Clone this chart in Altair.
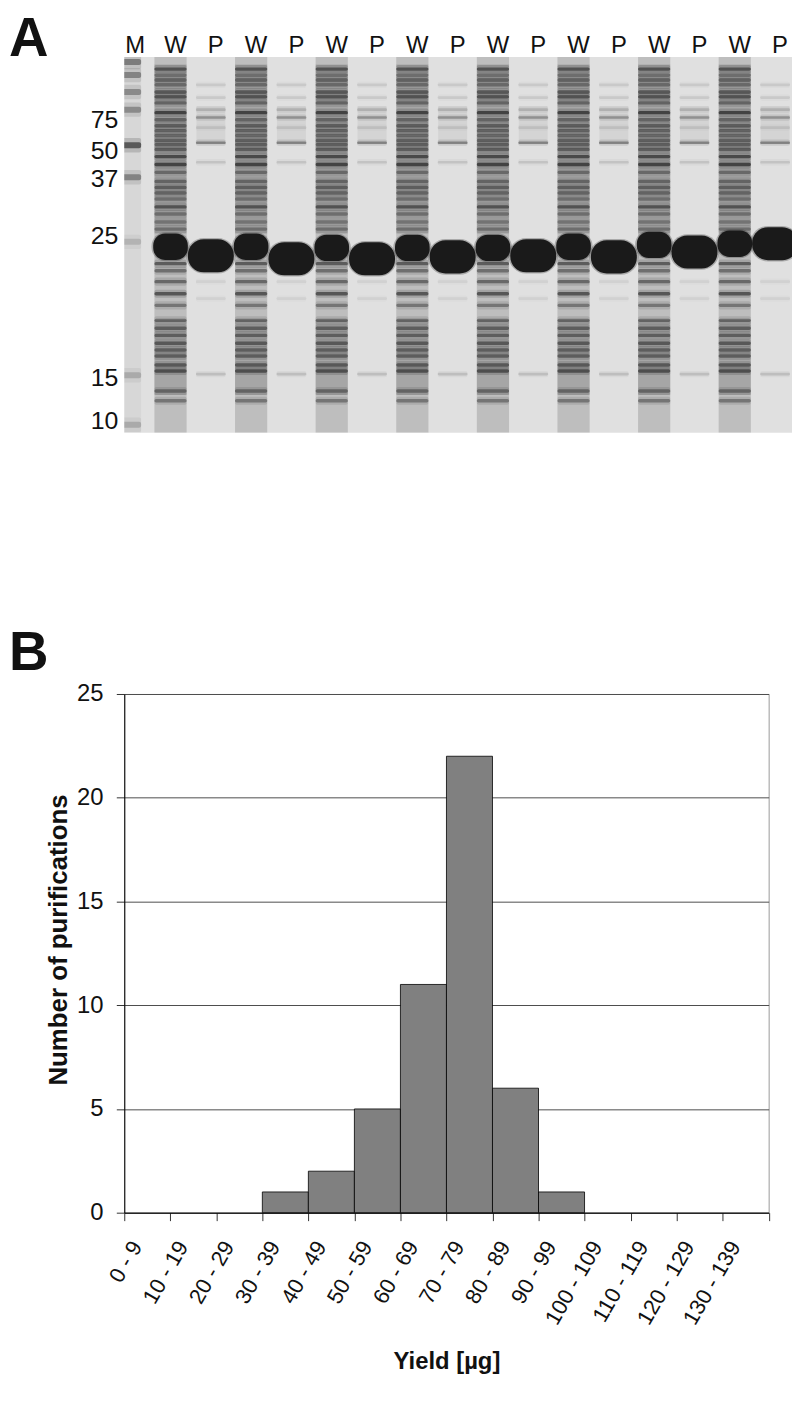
import altair as alt
import pandas as pd

# ---------------- Panel A : SDS-PAGE gel ----------------
lane_labels = ["M", "W", "P", "W", "P", "W", "P", "W", "P",
               "W", "P", "W", "P", "W", "P", "W", "P"]

# molecular-weight markers (kDa) and their relative migration (0 = gel top, 1 = gel bottom)
marker_kda = [75, 50, 37, 25, 15, 10]
marker_rf = [0.167, 0.249, 0.325, 0.476, 0.854, 0.968]

# marker lane bands
m_band_rf = [0.013, 0.048, 0.093, 0.140, 0.235, 0.320, 0.492, 0.847, 0.979]
m_band_int = [0.55, 0.50, 0.45, 0.45, 0.80, 0.50, 0.20, 0.25, 0.25]

# whole-cell (W) lane bands
w_band_rf = [0.032, 0.048, 0.061, 0.074, 0.093, 0.106, 0.122, 0.148, 0.167, 0.183,
             0.196, 0.209, 0.222, 0.233, 0.246, 0.265, 0.286, 0.307, 0.331, 0.347,
             0.362, 0.378, 0.399, 0.418, 0.439, 0.458, 0.550, 0.569, 0.598, 0.630,
             0.661, 0.701, 0.722, 0.741, 0.762, 0.780, 0.796, 0.820, 0.836, 0.889,
             0.915]
w_band_int = [0.70, 0.45, 0.55, 0.50, 0.65, 0.70, 0.55, 0.85, 0.55, 0.60,
              0.55, 0.50, 0.55, 0.55, 0.60, 0.80, 0.85, 0.50, 0.55, 0.60,
              0.55, 0.45, 0.70, 0.45, 0.40, 0.45, 0.70, 0.55, 0.60, 0.75,
              0.50, 0.55, 0.60, 0.60, 0.65, 0.60, 0.60, 0.65, 0.75, 0.55,
              0.50]

# purified (P) lane minor bands
p_band_rf = [0.074, 0.108, 0.140, 0.161, 0.188, 0.228, 0.280, 0.598, 0.643, 0.844]
p_band_int = [0.12, 0.12, 0.20, 0.40, 0.12, 0.50, 0.15, 0.08, 0.08, 0.18]

# background smear of the W lanes (from, to, strength)
w_smear_from = [0.00, 0.02, 0.70]
w_smear_to = [1.00, 0.47, 0.90]
w_smear_int = [0.15, 0.12, 0.12]

# main (overexpressed) band position in each W and P lane
w_blob_rf = [0.505, 0.505, 0.508, 0.508, 0.508, 0.505, 0.500, 0.497]
p_blob_rf = [0.529, 0.537, 0.537, 0.532, 0.529, 0.532, 0.519, 0.497]

# ---------------- Panel B : histogram ----------------
bins = ["0 - 9", "10 - 19", "20 - 29", "30 - 39", "40 - 49", "50 - 59", "60 - 69",
        "70 - 79", "80 - 89", "90 - 99", "100 - 109", "110 - 119", "120 - 129", "130 - 139"]
counts = [0, 0, 0, 1, 2, 5, 11, 22, 6, 1, 0, 0, 0, 0]

panel_letters = ["A", "B"]

FONT = "Liberation Sans"

# ---- build gel tables ----
m_lanes = [i for i, l in enumerate(lane_labels) if l == "M"]
w_lanes = [i for i, l in enumerate(lane_labels) if l == "W"]
p_lanes = [i for i, l in enumerate(lane_labels) if l == "P"]

band_rows = []
for i in m_lanes:
    for rf, it in zip(m_band_rf, m_band_int):
        band_rows.append({"lane": i, "rf": rf, "intensity": it, "hw": 0.27, "ht": 0.016})
for i in w_lanes:
    for rf, it in zip(w_band_rf, w_band_int):
        band_rows.append({"lane": i, "rf": rf, "intensity": it, "hw": 0.40, "ht": 0.009})
for i in p_lanes:
    for rf, it in zip(p_band_rf, p_band_int):
        band_rows.append({"lane": i, "rf": rf, "intensity": it, "hw": 0.37, "ht": 0.007})
bands_df = pd.DataFrame(band_rows)

smear_rows = []
for i in w_lanes:
    for a, b, it in zip(w_smear_from, w_smear_to, w_smear_int):
        smear_rows.append({"lane": i, "rf0": a, "rf1": b, "intensity": it, "hw": 0.40})
for i in p_lanes:
    smear_rows.append({"lane": i, "rf0": 0.13, "rf1": 0.23, "intensity": 0.05, "hw": 0.36})
for i in m_lanes:
    smear_rows.append({"lane": i, "rf0": 0.0, "rf1": 1.0, "intensity": 0.04, "hw": 0.27})
smear_df = pd.DataFrame(smear_rows)

wblob_df = pd.DataFrame({"lane": w_lanes, "rf": w_blob_rf})
wblob_df["hw"], wblob_df["ht"] = 0.43, 0.035
pblob_df = pd.DataFrame({"lane": p_lanes, "rf": p_blob_rf})
pblob_df["hw"], pblob_df["ht"] = 0.57, 0.044

lanes_df = pd.DataFrame({"lane": list(range(len(lane_labels))), "label": lane_labels})
markers_df = pd.DataFrame({"kda": marker_kda, "rf": marker_rf})

xs = alt.Scale(domain=[-0.148, 16.42], nice=False, zero=False)
ys = alt.Scale(domain=[0, 1], reverse=True, nice=False, zero=False)

smear = alt.Chart(smear_df).transform_calculate(
    x0="datum.lane - datum.hw", x1="datum.lane + datum.hw"
).mark_rect(color="#000000", clip=True).encode(
    x=alt.X("x0:Q", scale=xs, axis=None), x2="x1:Q",
    y=alt.Y("rf0:Q", scale=ys, axis=None), y2="rf1:Q",
    opacity=alt.Opacity("intensity:Q", scale=None, legend=None),
)

def band_layer(grow, fade, color):
    return alt.Chart(bands_df).transform_calculate(
        x0="datum.lane - datum.hw", x1="datum.lane + datum.hw",
        y0=f"datum.rf - datum.ht * {grow} / 2", y1=f"datum.rf + datum.ht * {grow} / 2",
        op=f"datum.intensity * {fade}",
    ).mark_rect(color=color, clip=True, cornerRadius=2).encode(
        x=alt.X("x0:Q", scale=xs, axis=None), x2="x1:Q",
        y=alt.Y("y0:Q", scale=ys, axis=None), y2="y1:Q",
        opacity=alt.Opacity("op:Q", scale=None, legend=None),
    )

bands_soft = band_layer(2.4, 0.25, "#303030")
bands_core = band_layer(1.0, 0.75, "#1a1a1a")

def blob_layer(df, radius, grow, color, opacity):
    return alt.Chart(df).transform_calculate(
        x0=f"datum.lane - datum.hw * {grow}", x1=f"datum.lane + datum.hw * {grow}",
        y0=f"datum.rf - datum.ht * {grow}", y1=f"datum.rf + datum.ht * {grow}",
    ).mark_rect(color=color, clip=True, cornerRadius=radius, opacity=opacity).encode(
        x=alt.X("x0:Q", scale=xs, axis=None), x2="x1:Q",
        y=alt.Y("y0:Q", scale=ys, axis=None), y2="y1:Q",
    )

wblobs_halo = blob_layer(wblob_df, 14, 1.10, "#2a2a2a", 0.3)
pblobs_halo = blob_layer(pblob_df, 18, 1.08, "#2a2a2a", 0.3)
wblobs = blob_layer(wblob_df, 12, 1.0, "#1a1a1a", 1.0)
pblobs = blob_layer(pblob_df, 16, 1.0, "#1a1a1a", 1.0)

lane_text = alt.Chart(lanes_df).mark_text(
    font=FONT, fontSize=24, baseline="alphabetic", dx=5, color="#111111"
).encode(x=alt.X("lane:Q", scale=xs, axis=None), y=alt.value(-4), text="label:N")

mw_text = alt.Chart(markers_df).mark_text(
    font=FONT, fontSize=25, align="right", baseline="middle", color="#111111"
).encode(x=alt.value(-6), y=alt.Y("rf:Q", scale=ys, axis=None), text="kda:N")

a_text = alt.Chart(pd.DataFrame({"letter": [panel_letters[0]]})).mark_text(
    font=FONT, fontSize=55, fontWeight="bold", align="left", baseline="alphabetic", color="#111111"
).encode(x=alt.value(-116), y=alt.value(-1), text="letter:N")

gel = alt.layer(smear, bands_soft, bands_core, wblobs_halo, pblobs_halo, wblobs, pblobs,
                lane_text, mw_text, a_text).properties(
    width=672, height=378,
    view=alt.ViewBackground(fill="#e0e0e0", strokeWidth=0),
)

# ---- histogram ----
hist_df = pd.DataFrame({"bin": bins, "count": counts})

bars = alt.Chart(hist_df).transform_filter("datum.count > 0").mark_bar(
    fill="#808080", stroke="#000000", strokeWidth=0.8
).encode(
    x=alt.X("bin:N", sort=bins,
            scale=alt.Scale(domain=bins, paddingInner=0, paddingOuter=0),
            axis=alt.Axis(title="Yield [µg]", labelAngle=-60, labelAlign="right",
                          labelBaseline="middle", labelPadding=22, labelOffset=-11,
                          tickBand="extent", tickSize=8, labelFontSize=22, titleFontSize=24,
                          titleFontWeight="bold", titlePadding=22, domainColor="#000000",
                          tickColor="#333333", grid=False, labelOverlap=False,
                          labelColor="#111111", titleColor="#111111")),
    y=alt.Y("count:Q", scale=alt.Scale(domain=[0, 25], nice=False),
            axis=alt.Axis(values=[0, 5, 10, 15, 20, 25], title="Number of purifications",
                          grid=True, gridColor="#4d4d4d", gridWidth=1,
                          domainColor="#000000", tickColor="#333333", tickSize=8,
                          labelPadding=13.5, labelFontSize=24, titleFontSize=26,
                          titleFontWeight="bold", titlePadding=5, titleY=247,
                          labelColor="#111111", titleColor="#111111")),
)

b_text = alt.Chart(pd.DataFrame({"letter": [panel_letters[1]]})).mark_text(
    font=FONT, fontSize=55, fontWeight="bold", align="left", baseline="alphabetic", color="#111111"
).encode(x=alt.value(-116), y=alt.value(-24), text="letter:N")

hist = alt.layer(bars, b_text).properties(
    width=648.5, height=522,
    view=alt.ViewBackground(stroke="#9a9a9a", strokeWidth=1, fill="white"),
)

chart = alt.vconcat(gel, hist, spacing=193).properties(
    padding=0, background="white"
).configure_axis(
    labelFont=FONT, titleFont=FONT
).configure_text(font=FONT)

chart.save("out.html", embed_options={"renderer": "svg", "actions": False})
